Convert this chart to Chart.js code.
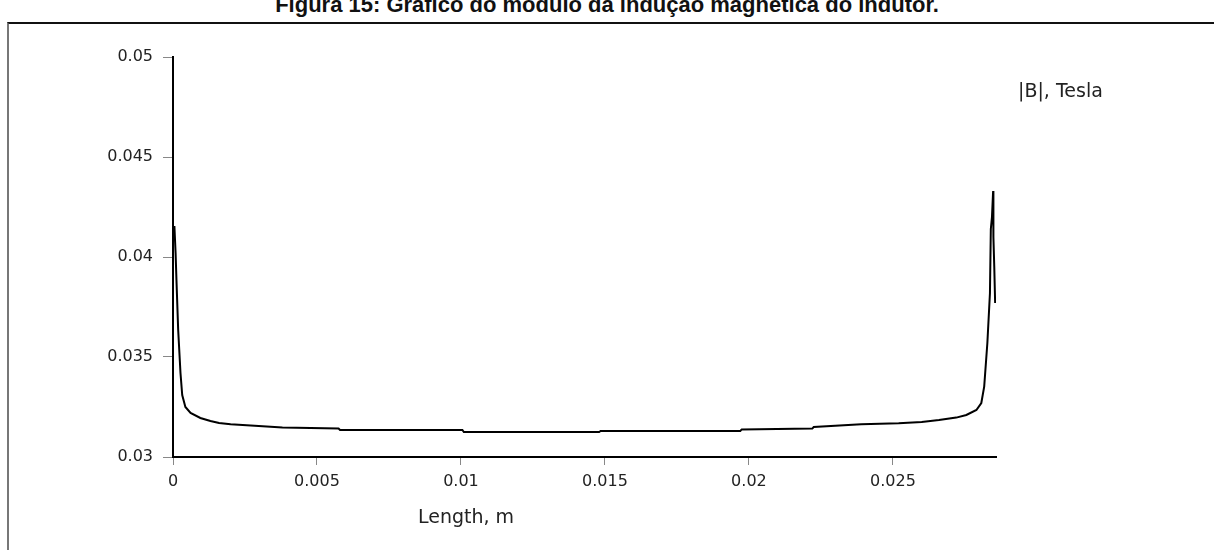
<!DOCTYPE html>
<html>
<head>
<meta charset="utf-8">
<script src="https://cdn.jsdelivr.net/npm/chart.js@4"></script>
<style>
  html, body { margin: 0; padding: 0; background: #fff; }
  #wrap { position: relative; width: 1214px; height: 550px; overflow: hidden; }
  #title { position: absolute; left: 0; width: 1214px; top: -8px; line-height: 22px; text-align: center;
           font: bold 22px "Liberation Sans", Arial, sans-serif; color: #111; }
  #frame { position: absolute; left: 7px; top: 22px; width: 1220px; height: 540px;
           border-top: 2px solid #111; border-left: 2px solid #777; }
  canvas { position: absolute; left: 0; top: 0; }
  .lbl { position: absolute; font: 19px "DejaVu Sans", Verdana, sans-serif; color: #222; white-space: nowrap; }
</style>
</head>
<body>
<div id="wrap">
  <div id="title">Figura 15: Gráfico do módulo da indução magnética do indutor.</div>
  <div id="frame"></div>
  <canvas id="bChart" width="1214" height="550"></canvas>
  <div class="lbl" id="legend" style="left:1018px; top:79px;">|B|, Tesla</div>
  <div class="lbl" id="xTitle" style="left:418px; top:505px;">Length, m</div>
</div>
<script>
'use strict';

// position along the line (m)
const lengthM = [0, 0.00005, 0.00009, 0.00012, 0.00018, 0.00026, 0.00032, 0.00043, 0.00061, 0.00095,
  0.0013, 0.0016, 0.002, 0.0027, 0.0038, 0.00575, 0.0058, 0.01005, 0.0101, 0.0148, 0.01485,
  0.0197, 0.01975, 0.0222, 0.02225, 0.0239, 0.0252, 0.026, 0.0266, 0.0272, 0.02755, 0.0279,
  0.02807, 0.02817, 0.02828, 0.02837, 0.0284, 0.02844, 0.02848, 0.02849, 0.02852, 0.02855];
// |B| in tesla
const bTesla = [0.0415, 0.0415, 0.0402, 0.03885, 0.03635, 0.0342, 0.0331, 0.0325, 0.0322, 0.03195,
  0.0318, 0.0317, 0.03164, 0.03157, 0.03147, 0.03142, 0.03135, 0.03135, 0.03125, 0.03125, 0.0313,
  0.0313, 0.03138, 0.03142, 0.0315, 0.03164, 0.03169, 0.03175, 0.03185, 0.03197, 0.0321, 0.03235,
  0.0327, 0.03352, 0.0357, 0.0382, 0.0414, 0.042, 0.0433, 0.041, 0.0395, 0.0377];

const xTicks = [0, 0.005, 0.01, 0.015, 0.02, 0.025];
const yTicks = [0.03, 0.035, 0.04, 0.045, 0.05];

const pts = lengthM.map((x, i) => ({ x: x, y: bTesla[i] }));

new Chart(document.getElementById('bChart'), {
  type: 'line',
  data: {
    datasets: [{
      label: '|B|, Tesla',
      data: pts,
      borderColor: '#000',
      borderWidth: 2,
      pointRadius: 0,
      tension: 0,
      fill: false
    }]
  },
  options: {
    responsive: false,
    animation: false,
    layout: { padding: { left: 0, top: 57, right: 218, bottom: 0 } },
    plugins: { legend: { display: false }, tooltip: { enabled: false } },
    scales: {
      x: {
        type: 'linear',
        min: 0,
        max: 0.02858,
        afterBuildTicks: s => { s.ticks = xTicks.map(v => ({ value: v })); },
        afterFit: s => { s.height = 93; },
        grid: { drawOnChartArea: false, tickLength: 8, color: '#888' },
        border: { color: '#000', width: 2 },
        ticks: {
          padding: 7,
          maxRotation: 0,
          color: '#222',
          font: { family: 'DejaVu Sans', size: 16 },
          callback: v => String(v)
        }
      },
      y: {
        min: 0.03,
        max: 0.05,
        afterBuildTicks: s => { s.ticks = yTicks.map(v => ({ value: v })); },
        afterFit: s => { s.width = 173; },
        grid: { drawOnChartArea: false, tickLength: 10, color: '#888' },
        border: { color: '#000', width: 2 },
        ticks: {
          padding: 10,
          color: '#222',
          font: { family: 'DejaVu Sans', size: 16 },
          callback: v => String(v)
        }
      }
    }
  }
});
</script>
</body>
</html>
